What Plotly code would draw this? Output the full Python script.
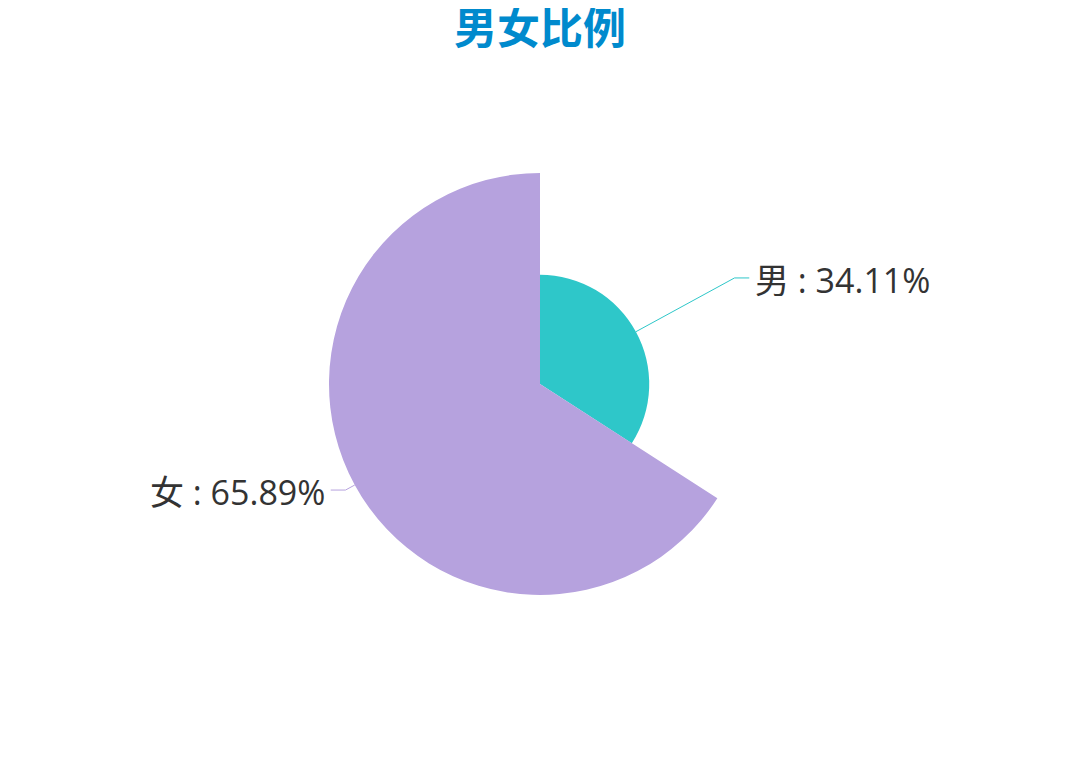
import math
import plotly.graph_objects as go

labels = ["男", "女"]
values = [34.11, 65.89]
colors = ["#2ec7c9", "#b6a2de"]

W, H = 1080, 769
OFF = 8  # page body margin shifts the figure, compensate for it

total = sum(values)
rmax = max(values)
# radial axis a bit larger than the biggest sector, so labels have room
axis_max = rmax * 250 / 211

cx, cy, half = 540 - OFF, 384 - OFF, 250
px_per_unit = half / axis_max

fig = go.Figure()

# rose sectors, clockwise from 12 o'clock
start = 0.0
mids = []
for name, v, c in zip(labels, values, colors):
    width = v / total * 360
    mid = start + width / 2
    mids.append(mid)
    fig.add_trace(go.Barpolar(
        r=[v], theta=[mid], width=[width], name=name,
        marker=dict(color=c, line=dict(width=0)),
        hoverinfo="name"
    ))
    start += width

# leader lines and labels (echarts style: length from outer radius, then horizontal)
def to_xy(r, ang):
    a = math.radians(ang)
    return r * math.sin(a), r * math.cos(a)

def to_polar(x, y):
    return math.hypot(x, y), math.degrees(math.atan2(x, y)) % 360

annotations = []
for name, v, c, mid in zip(labels, values, colors, mids):
    x0, y0 = to_xy(v, mid)
    x1, y1 = to_xy(rmax * 1.05, mid)
    side = 1 if x1 >= 0 else -1
    x2, y2 = x1 + side * rmax * 0.07, y1
    pts = [to_polar(x0, y0), to_polar(x1, y1), to_polar(x2, y2)]
    fig.add_trace(go.Scatterpolar(
        r=[p[0] for p in pts], theta=[p[1] for p in pts],
        mode="lines", line=dict(color=c, width=1), hoverinfo="skip",
        showlegend=False, cliponaxis=False
    ))
    # label position in paper coordinates from the same geometry
    lx = (cx + x2 * px_per_unit + side * 4) / W
    ly = 1 - (cy - y2 * px_per_unit) / H
    annotations.append(dict(
        x=lx, y=ly, xref="paper", yref="paper",
        xanchor="left" if side > 0 else "right", yanchor="middle",
        yshift=-2, showarrow=False,
        text="%s : %.2f%%" % (name, v),
        font=dict(size=34, color="#333333", family="Open Sans, Noto Sans CJK SC"),
    ))

fig.update_layout(
    width=W, height=H,
    paper_bgcolor="white", plot_bgcolor="white",
    margin=dict(l=0, r=0, t=0, b=0),
    showlegend=False,
    annotations=annotations,
    title=dict(text="<b>男女比例</b>", x=(540 - OFF) / W, xanchor="center",
               y=1 - (29 - OFF) / H, yanchor="middle",
               font=dict(size=43, color="#008acd", family="Noto Sans CJK SC")),
    polar=dict(
        domain=dict(x=[(cx - half) / W, (cx + half) / W],
                    y=[1 - (cy + half) / H, 1 - (cy - half) / H]),
        bgcolor="white",
        bargap=0,
        angularaxis=dict(rotation=90, direction="clockwise", visible=False,
                         showgrid=False, showline=False, showticklabels=False, ticks=""),
        radialaxis=dict(range=[0, axis_max], visible=False, showgrid=False,
                        showline=False, showticklabels=False, ticks=""),
    ),
)

fig.write_html("out.html")
